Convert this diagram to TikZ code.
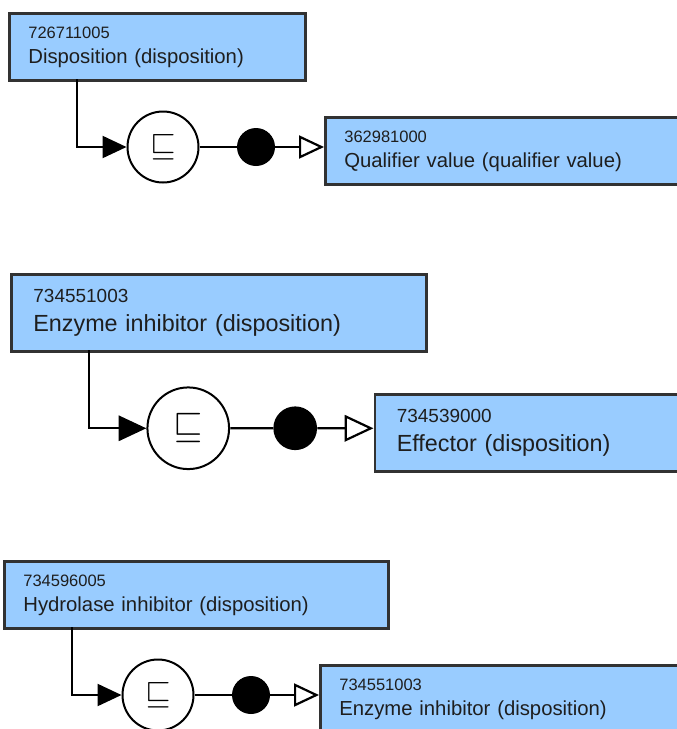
\documentclass[tikz,border=0pt]{standalone}
\usepackage{fontspec}
\usepackage{graphicx}
\setmainfont{Liberation Sans}
\usetikzlibrary{arrows.meta}
\definecolor{conceptfill}{RGB}{153,204,255}
\definecolor{conceptline}{RGB}{50,50,50}
\definecolor{concepttext}{RGB}{30,30,30}
\newcommand{\idfont}{\fontsize{16.5}{25}\selectfont}
\newcommand{\isarow}[9]{%
  \begin{scope}[shift={(#2,#3)}, scale=#4, transform shape]
    % defined concept
    \node[concept, text width=#5pt] (#1src) at (0,0) {{\idfont #6}\\#7};
    \coordinate (#1root) at (69,-67);
    % is-a operator and role group
    \node[defop] (#1op) at (155,-135) {\scalebox{3.3}{$\sqsubseteq$}};
    \node[roledot] (#1dot) at (248,-135) {};
    % parent concept (runs off the right edge)
    \node[concept, text width=420pt] (#1tgt) at (316,-104) {{\idfont #8}\\#9};
    \draw[isa, -{Triangle[length=24pt, width=22pt, scale=#4]}] (#1root) |- (#1op);
    \draw[link] (#1op) -- (#1dot);
    \draw[link, -{Triangle[open, length=25pt, width=23pt, fill=white, scale=#4]}] (#1dot) -- (#1dot -| #1tgt.west);
  \end{scope}}
\begin{document}
\begin{tikzpicture}[x=1pt, y=1pt,
  concept/.style={draw=conceptline, fill=conceptfill, line width=2.7pt, anchor=north west,
    inner xsep=19pt, minimum height=67pt, align=left, text=concepttext,
    font=\fontsize{20.3}{25}\selectfont},
  defop/.style={draw=black, fill=white, circle, line width=2pt, minimum size=71pt,
    inner sep=0pt},
  roledot/.style={fill=black, circle, minimum size=38pt, inner sep=0pt},
  link/.style={line width=2.2pt},
  isa/.style={link},
]
\useasboundingbox (0,0) rectangle (677,-729);
\clip (0,0) rectangle (677,-729);
% ===== Rows =====
\isarow{a}{8}{-12}{1}{258}{726711005}{Disposition (disposition)}{362981000}{Qualifier value (qualifier value)}
\isarow{b}{10}{-273}{1.15}{323}{734551003}{Enzyme inhibitor (disposition)}{734539000}{Effector (disposition)}
\isarow{c}{3}{-560}{1}{346}{734596005}{Hydrolase inhibitor (disposition)}{734551003}{Enzyme inhibitor (disposition)}
\end{tikzpicture}
\end{document}
